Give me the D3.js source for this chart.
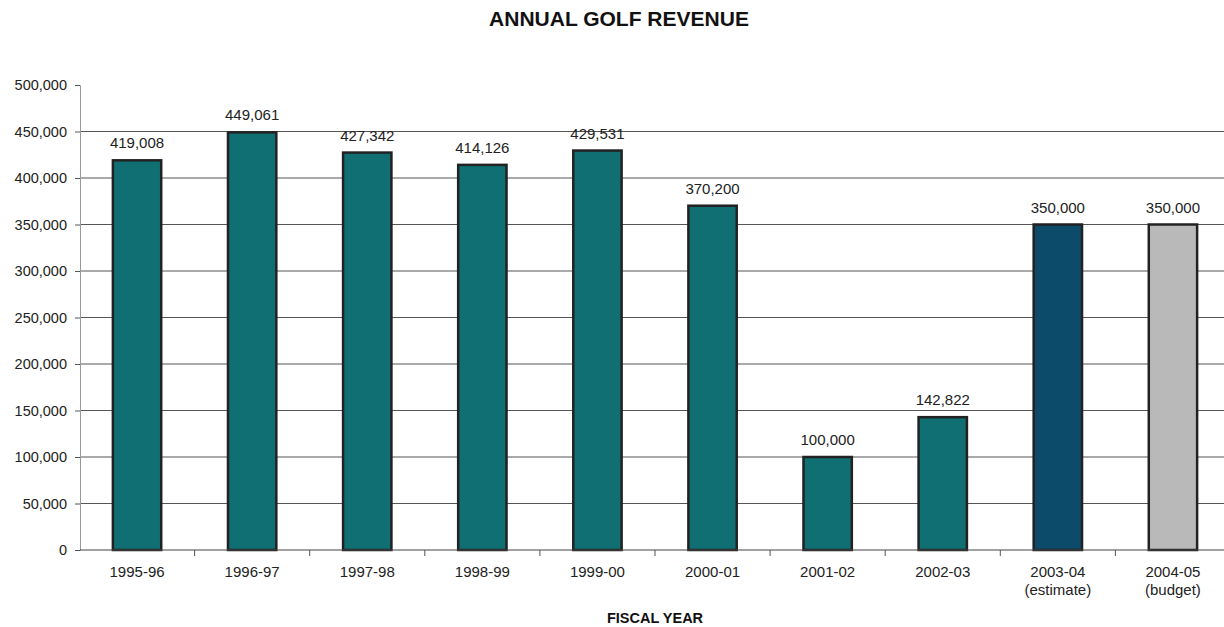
<!DOCTYPE html>
<html><head><meta charset="utf-8">
<script src="https://cdn.jsdelivr.net/npm/d3@7"></script>
<style>body{margin:0;background:#fff;font-family:"Liberation Sans",Arial,sans-serif}</style>
</head><body>
<svg id="c" width="1224" height="627"></svg>
<script>
const categories = ["1995-96","1996-97","1997-98","1998-99","1999-00","2000-01","2001-02","2002-03","2003-04","2004-05"];
const subLabels = ["","","","","","","","","(estimate)","(budget)"];
const revenue = [419008,449061,427342,414126,429531,370200,100000,142822,350000,350000];
const barColors = ["#0f6f72","#0f6f72","#0f6f72","#0f6f72","#0f6f72","#0f6f72","#0f6f72","#0f6f72","#0d4b6b","#b9b9b9"];
const yTicks = [0,50000,100000,150000,200000,250000,300000,350000,400000,450000,500000];
const gridTicks = [50000,100000,150000,200000,250000,300000,350000,400000,450000];

const svg = d3.select("#c");
const x = d3.scaleBand().domain(categories).range([79.5, 1230.5]).paddingInner(0.58).paddingOuter(0.29);
const y = d3.scaleLinear().domain([0,500000]).range([550, 85]);
const fmt = d3.format(",");

// gridlines
svg.append("g").selectAll("line").data(gridTicks).join("line")
  .attr("x1",80).attr("x2",1224).attr("y1",d=>y(d)).attr("y2",d=>y(d))
  .attr("stroke","#555").attr("stroke-width",1);

// y axis
const ya = svg.append("g").attr("transform","translate(80,0)")
  .call(d3.axisLeft(y).tickValues(yTicks).tickFormat(fmt).tickSize(5).tickPadding(8));
ya.select(".domain").attr("stroke","#999");
ya.selectAll("text").attr("font-size",14.5).attr("fill","#222").attr("font-family","Liberation Sans, Arial");
ya.selectAll(".tick line").attr("stroke","#555");

// bars
svg.append("g").selectAll("rect").data(revenue).join("rect")
  .attr("x",(d,i)=>x(categories[i])).attr("width",x.bandwidth())
  .attr("y",d=>y(d)).attr("height",d=>y(0)-y(d))
  .attr("fill",(d,i)=>barColors[i]).attr("stroke","#222").attr("stroke-width",2.5);

// x axis
const step = x.step();
const xa = svg.append("g").attr("transform","translate(0,550)");
xa.append("line").attr("x1",80).attr("x2",1224).attr("stroke","#444").attr("stroke-width",1.2);
xa.selectAll("line.t").data(categories.slice(1)).join("line").attr("class","t")
  .attr("x1",d=>x(d)+x.bandwidth()/2-step/2).attr("x2",d=>x(d)+x.bandwidth()/2-step/2)
  .attr("y1",0).attr("y2",6).attr("stroke","#555");
xa.selectAll("text.c").data(categories).join("text").attr("class","c")
  .attr("x",d=>x(d)+x.bandwidth()/2).attr("y",27).attr("text-anchor","middle")
  .attr("font-size",15).attr("fill","#222").text(d=>d);
xa.selectAll("text.s").data(subLabels).join("text").attr("class","s")
  .attr("x",(d,i)=>x(categories[i])+x.bandwidth()/2).attr("y",45).attr("text-anchor","middle")
  .attr("font-size",15).attr("fill","#222").text(d=>d);

// value labels
svg.append("g").selectAll("text").data(revenue).join("text")
  .attr("x",(d,i)=>x(categories[i])+x.bandwidth()/2).attr("y",d=>y(d)-12)
  .attr("text-anchor","middle").attr("font-size",15).attr("fill","#222").text(d=>fmt(d));

// titles
svg.append("text").attr("x",619).attr("y",26).attr("text-anchor","middle")
  .attr("font-size",21).attr("font-weight","bold").attr("fill","#111").text("ANNUAL GOLF REVENUE");
svg.append("text").attr("x",655).attr("y",623).attr("text-anchor","middle")
  .attr("font-size",14.5).attr("font-weight","bold").attr("fill","#111").text("FISCAL YEAR");
</script>
</body></html>
